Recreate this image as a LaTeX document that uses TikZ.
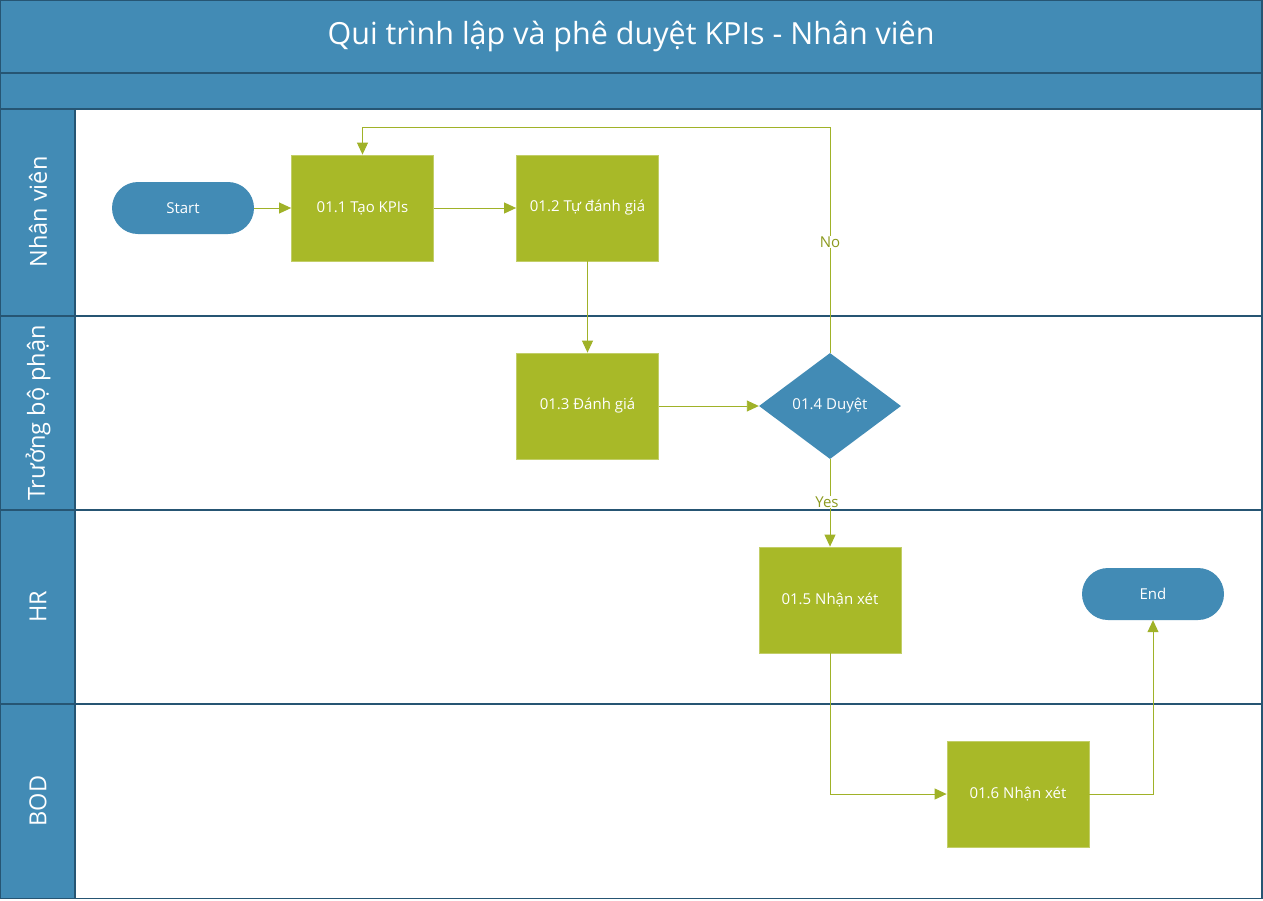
\documentclass[tikz,border=0pt]{standalone}
\usepackage{fontspec}
\setmainfont{Open Sans}
\usetikzlibrary{shapes.geometric,arrows.meta}
\definecolor{hdrblue}{RGB}{66,139,181}
\definecolor{darkline}{RGB}{38,85,115}
\definecolor{boxgreen}{RGB}{168,185,40}
\definecolor{linegreen}{RGB}{160,178,40}
\definecolor{labgreen}{RGB}{140,154,30}
\tikzset{
  x=1pt,y=-1pt,
  stepbox/.style={rectangle,fill=boxgreen,draw=boxgreen!70!white,line width=0.8pt,minimum width=142pt,minimum height=106pt,text=white,font=\fontsize{15}{17}\selectfont,inner sep=0pt},
  term/.style={rectangle,rounded corners=26pt,fill=hdrblue,minimum width=142pt,minimum height=52pt,text=white,font=\fontsize{15}{17}\selectfont,inner sep=0pt},
  decide/.style={diamond,aspect=1.34,fill=hdrblue,minimum width=142pt,minimum height=106pt,text=white,font=\fontsize{15}{17}\selectfont,inner sep=0pt},
  flow/.style={draw=linegreen,line width=0.9pt,-{Triangle[length=12pt,width=11pt]}},
  lanetxt/.style={text=white,font=\fontsize{23.5}{27}\selectfont,rotate=90},
  edgelab/.style={fill=white,text=labgreen,font=\fontsize{15}{17}\selectfont,inner sep=1pt}
}
\begin{document}
\begin{tikzpicture}
\useasboundingbox (0,0) rectangle (1263,900);
% background and bands
\fill[white] (0,0) rectangle (1263,900);
\fill[hdrblue] (0,0) rectangle (1262,109);
\fill[hdrblue] (0,109) rectangle (75,898);
\draw[darkline,line width=1.2pt] (0.6,0.6) rectangle (1262,898.5);
\draw[darkline,line width=1.2pt] (0,73) -- (1262,73);
\draw[darkline,line width=1.2pt] (0,109) -- (1262,109);
\draw[darkline,line width=1.2pt] (75,109) -- (75,898);
\draw[darkline,line width=1.2pt] (0,316) -- (1262,316);
\draw[darkline,line width=1.2pt] (0,510) -- (1262,510);
\draw[darkline,line width=1.2pt] (0,704) -- (1262,704);
\node[text=white,font=\fontsize{30.5}{34}\selectfont] (title) at (631,36) {Qui trình lập và phê duyệt KPIs - Nhân viên};
\node[lanetxt] (l1) at (38,212) {Nhân viên};
\node[lanetxt] (l2) at (38,413) {Trưởng bộ phận};
\node[lanetxt] (l3) at (38,607) {HR};
\node[lanetxt] (l4) at (38,801) {BOD};
% nodes
\node[term] (start) at (183,208) {Start};
\node[stepbox] (s11) at (362.5,208) {01.1 Tạo KPIs};
\node[stepbox] (s12) at (587.5,208) {01.2 Tự đánh giá};
\node[stepbox] (s13) at (587.5,406) {01.3 Đánh giá};
\node[decide] (s14) at (830,406) {01.4 Duyệt};
\node[stepbox] (s15) at (830,600) {01.5 Nhận xét};
\node[term] (end) at (1153,594) {End};
\node[stepbox] (s16) at (1018,794) {01.6 Nhận xét};
\coordinate (c1) at (830,127);
\coordinate (c2) at (362.5,127);
\coordinate (c3) at (830,794);
\coordinate (c4) at (1153,794);
% connectors
\draw[flow] (start) -- (s11);
\draw[flow] (s11) -- (s12);
\draw[flow] (s12) -- (s13);
\draw[flow] (s13) -- (s14);
\draw[flow] (s14.north) -- (c1) -- (c2) -- (s11.north);
\draw[flow] (s14.south) -- (s15.north);
\draw[flow] (s15.south) -- (c3) -- (s16.west);
\draw[flow] (s16.east) -- (c4) -- (end.south);
\node[edgelab] (no) at (830,242) {No};
\node[edgelab] (yes) at (827,502) {Yes};
\end{tikzpicture}
\end{document}
